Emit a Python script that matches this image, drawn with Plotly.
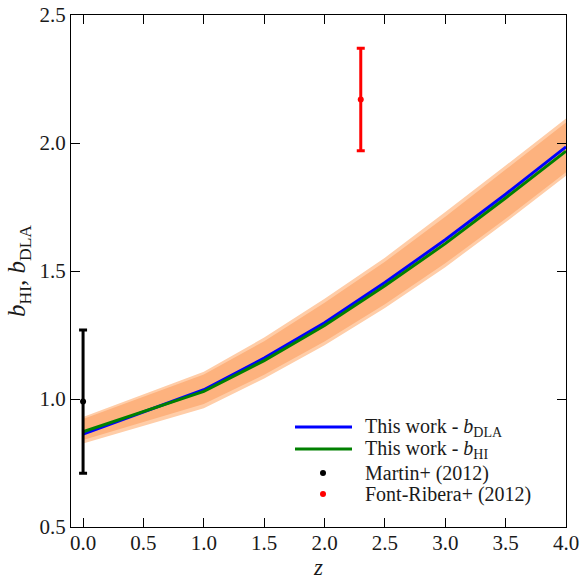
import plotly.graph_objects as go

# ---- data ----
z_model = [0.0, 0.5, 1.0, 1.5, 2.0, 2.5, 3.0, 3.5, 4.0]
b_dla = [0.863, 0.948, 1.036, 1.160, 1.298, 1.455, 1.622, 1.800, 1.985]
b_hi = [0.872, 0.952, 1.030, 1.150, 1.287, 1.442, 1.607, 1.785, 1.968]

band_outer_upper = [0.930, 1.018, 1.106, 1.240, 1.392, 1.552, 1.730, 1.912, 2.096]
band_outer_lower = [0.826, 0.895, 0.964, 1.080, 1.210, 1.355, 1.515, 1.690, 1.872]
band_inner_upper = [0.922, 1.008, 1.096, 1.226, 1.376, 1.536, 1.712, 1.896, 2.080]
band_inner_lower = [0.840, 0.910, 0.980, 1.095, 1.225, 1.370, 1.530, 1.704, 1.886]

martin_z = [0.0]
martin_b = [0.99]
martin_err = [0.28]

font_z = [2.3]
font_b = [2.17]
font_err = [0.20]

x_ticks = [0.0, 0.5, 1.0, 1.5, 2.0, 2.5, 3.0, 3.5, 4.0]
y_ticks = [0.5, 1.0, 1.5, 2.0, 2.5]

legend_labels = ["This work - <i>b</i><sub>DLA</sub>", "This work - <i>b</i><sub>HI</sub>",
                 "Martin+ (2012)", "Font-Ribera+ (2012)"]
legend_colors = ["#0000FF", "#008000", "black", "red"]
legend_kinds = ["line", "line", "dot", "dot"]

FONT = "Liberation Serif"
TXT = "#1a1a1a"

# plot-area geometry (pixels) used to place the hand-made legend
W, H = 581, 580
ML, MR, MT, MB = 71, 15, 15, 53
PW, PH = W - ML - MR, H - MT - MB

def px_x(px):
    return (px - ML) / PW

def px_y(py):
    return (H - MB - py) / PH

fig = go.Figure()

def band(upper, lower, color):
    fig.add_trace(go.Scatter(x=z_model, y=upper, mode="lines", line=dict(width=0, color=color),
                             showlegend=False, hoverinfo="skip"))
    fig.add_trace(go.Scatter(x=z_model, y=lower, mode="lines", line=dict(width=0, color=color),
                             fill="tonexty", fillcolor=color, showlegend=False, hoverinfo="skip"))

band(band_outer_upper, band_outer_lower, "#FFCDA8")
band(band_inner_upper, band_inner_lower, "#FDB27E")

fig.add_trace(go.Scatter(x=z_model, y=b_dla, mode="lines", line=dict(color="#0000FF", width=3),
                         name="This work - b_DLA", showlegend=False))
fig.add_trace(go.Scatter(x=z_model, y=b_hi, mode="lines", line=dict(color="#008000", width=3),
                         name="This work - b_HI", showlegend=False))
fig.add_trace(go.Scatter(x=martin_z, y=martin_b, mode="markers",
                         marker=dict(color="black", size=6),
                         error_y=dict(type="data", array=martin_err, color="black", thickness=3, width=4),
                         name="Martin+ (2012)", showlegend=False))
fig.add_trace(go.Scatter(x=font_z, y=font_b, mode="markers",
                         marker=dict(color="red", size=6),
                         error_y=dict(type="data", array=font_err, color="red", thickness=3, width=4),
                         name="Font-Ribera+ (2012)", showlegend=False))

# hand-made legend (tighter spacing than plotly's native legend)
row_y = [427, 449, 473, 494]
for lab, col, kind, ry in zip(legend_labels, legend_colors, legend_kinds, row_y):
    yp = px_y(ry)
    if kind == "line":
        fig.add_shape(type="line", xref="paper", yref="paper", x0=px_x(295), x1=px_x(352),
                      y0=yp, y1=yp, line=dict(color=col, width=3))
    else:
        fig.add_shape(type="circle", xref="paper", yref="paper",
                      x0=px_x(320), x1=px_x(326), y0=px_y(ry + 3), y1=px_y(ry - 3),
                      fillcolor=col, line=dict(color=col, width=0))
    fig.add_annotation(x=px_x(364), y=yp, xref="paper", yref="paper", text=lab,
                       showarrow=False, xanchor="left", yanchor="middle", borderpad=0,
                       font=dict(family=FONT, size=20, color=TXT))

axis_common = dict(showgrid=False, zeroline=False, showline=True, linecolor="black", linewidth=1,
                   mirror="ticks", ticks="inside", ticklen=9, tickwidth=1, tickcolor="black",
                   automargin=False,
                   tickfont=dict(family=FONT, size=21, color=TXT))

fig.update_xaxes(range=[-0.1, 4.0], tickvals=x_ticks, ticktext=[f"{v:.1f}" for v in x_ticks],
                 ticklabelstandoff=-3,
                 title=dict(text="<i>z</i>", font=dict(family=FONT, size=23, color=TXT), standoff=2),
                 **axis_common)
fig.update_yaxes(range=[0.5, 2.5], tickvals=y_ticks, ticktext=[f"{v:.1f}" for v in y_ticks],
                 title=dict(text="<i>b</i><sub>HI</sub>, <i>b</i><sub>DLA</sub>",
                            font=dict(family=FONT, size=25, color=TXT), standoff=6),
                 **axis_common)

fig.update_layout(
    width=W, height=H,
    margin=dict(l=ML, r=MR, t=MT, b=MB),
    plot_bgcolor="white", paper_bgcolor="white",
    font=dict(family=FONT, color=TXT),
    showlegend=False,
)

fig.write_html("out.html")
